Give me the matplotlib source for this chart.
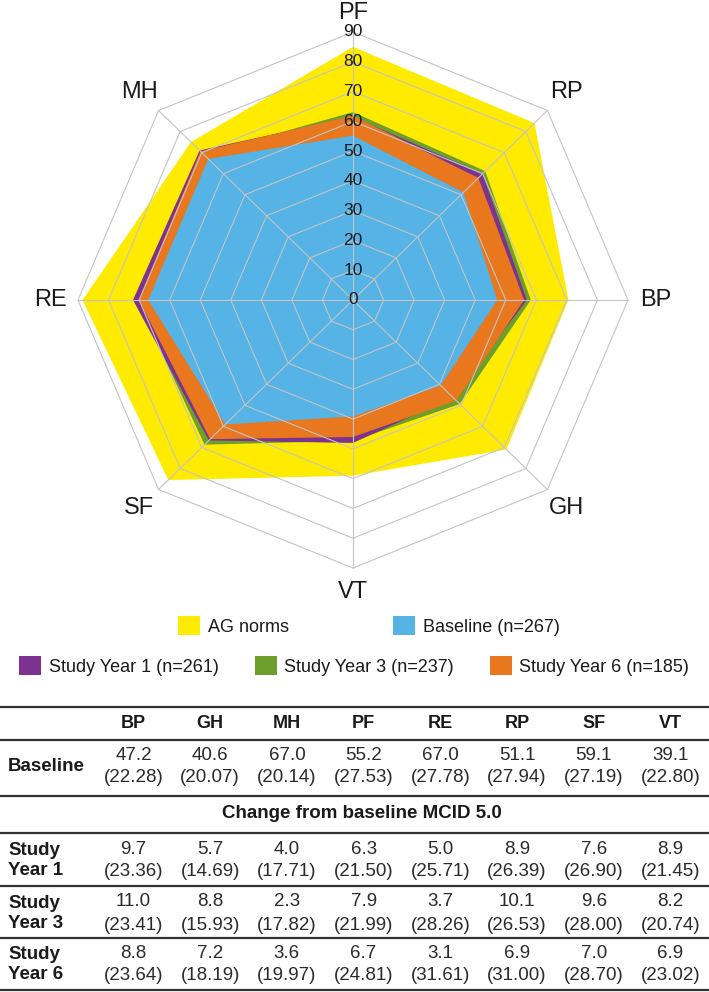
import numpy as np
import matplotlib
matplotlib.use("Agg")
from matplotlib import pyplot as plt
from matplotlib.patches import Patch
from matplotlib.lines import Line2D

plt.rcParams["font.family"] = ["Liberation Sans", "DejaVu Sans"]

# radar axes, clockwise from the top
axes_names = ["PF", "RP", "BP", "GH", "VT", "SF", "RE", "MH"]
ag_norms = [85.0, 84.0, 70.5, 71.0, 59.0, 85.5, 88.5, 75.0]

# table columns
table_cols = ["BP", "GH", "MH", "PF", "RE", "RP", "SF", "VT"]
baseline_mean = [47.2, 40.6, 67.0, 55.2, 67.0, 51.1, 59.1, 39.1]
baseline_sd = [22.28, 20.07, 20.14, 27.53, 27.78, 27.94, 27.19, 22.80]
y1_change = [9.7, 5.7, 4.0, 6.3, 5.0, 8.9, 7.6, 8.9]
y1_sd = [23.36, 14.69, 17.71, 21.50, 25.71, 26.39, 26.90, 21.45]
y3_change = [11.0, 8.8, 2.3, 7.9, 3.7, 10.1, 9.6, 8.2]
y3_sd = [23.41, 15.93, 17.82, 21.99, 28.26, 26.53, 28.00, 20.74]
y6_change = [8.8, 7.2, 3.6, 6.7, 3.1, 6.9, 7.0, 6.9]
y6_sd = [23.64, 18.19, 19.97, 24.81, 31.61, 31.00, 28.70, 23.02]

ticks = list(range(0, 100, 10))

YELLOW = "#FFEB00"
BLUE = "#55B3E6"
PURPLE = "#7D3191"
GREEN = "#6E9F2D"
ORANGE = "#E8771E"
TXT = "#1a1a1a"


def to_radar(vals):
    d = dict(zip(table_cols, vals))
    return [d[k] for k in axes_names]


base_r = to_radar(baseline_mean)
y1_r = [b + c for b, c in zip(base_r, to_radar(y1_change))]
y3_r = [b + c for b, c in zip(base_r, to_radar(y3_change))]
y6_r = [b + c for b, c in zip(base_r, to_radar(y6_change))]

W, H = 709, 992
fig = plt.figure(figsize=(W / 100, H / 100), dpi=100)

# radar axes: centre at (353, 300) px, 90 -> 275 px wide, 268 px tall
sx, sy = 275 / 90, 268 / 90
cx, cy = 353, 300
ax = fig.add_axes([0, 1 - 600 / H, 1, 600 / H])
ax.set_xlim(-cx / sx, (W - cx) / sx)
ax.set_ylim(-(600 - cy) / sy, cy / sy)
ax.axis("off")

theta = np.deg2rad(90 - 45 * np.arange(len(axes_names)))


def xy(r):
    r = np.asarray(r, dtype=float)
    return r * np.cos(theta), r * np.sin(theta)


for vals, col, z in [(ag_norms, YELLOW, 1), (y3_r, GREEN, 2), (y1_r, PURPLE, 2.1),
                     (y6_r, ORANGE, 2.2), (base_r, BLUE, 2.3)]:
    x, y = xy(vals)
    ax.fill(x, y, color=col, lw=0, zorder=z)

# octagonal grid
for t in ticks[1:]:
    x, y = xy([t] * len(axes_names))
    ax.plot(np.append(x, x[0]), np.append(y, y[0]), color="#c4c4c4", lw=0.8, zorder=3)
xe, ye = xy([90] * len(axes_names))
for a, b in zip(xe, ye):
    ax.plot([0, a], [0, b], color="#c4c4c4", lw=0.8, zorder=3)

for t in ticks:
    ax.text(0, t, str(t), ha="center", va="center", fontsize=12.5, color=TXT, zorder=5)

# axis names sit a little closer on the vertical spokes
label_r = [96.5, 99, 99, 99, 98, 99, 99, 99]
xl, yl = xy(label_r)
for name, a, b in zip(axes_names, xl, yl):
    ax.text(a, b, name, ha="center", va="center", fontsize=17, color=TXT, clip_on=False)

# legend rows
leg_kw = dict(loc="center", frameon=False, fontsize=13, handlelength=1.22,
              handleheight=1.22, handletextpad=0.4, labelcolor=TXT)
row1 = [Patch(facecolor=YELLOW, label="AG norms"),
        Patch(facecolor=BLUE, label="Baseline (n=267)")]
row2 = [Patch(facecolor=PURPLE, label="Study Year 1 (n=261)"),
        Patch(facecolor=GREEN, label="Study Year 3 (n=237)"),
        Patch(facecolor=ORANGE, label="Study Year 6 (n=185)")]
fig.legend(handles=row1, ncol=2, columnspacing=5.8,
           bbox_to_anchor=(369 / W, 1 - 626 / H), **leg_kw)
fig.legend(handles=row2, ncol=3, columnspacing=2.0,
           bbox_to_anchor=(354 / W, 1 - 666 / H), **leg_kw)


# table
def fx(px):
    return px / W


def fy(py):
    return 1 - py / H


for ly in [707, 740, 796, 833, 886, 938, 990]:
    fig.add_artist(Line2D([0, 1], [fy(ly), fy(ly)], color="#333333", lw=1.6))

col_x = [133.5 + 76.7 * i for i in range(len(table_cols))]
for c, x in zip(table_cols, col_x):
    fig.text(fx(x), fy(723), c, ha="center", va="center", fontsize=13,
             fontweight="bold", color=TXT)

rows = [("Baseline", baseline_mean, baseline_sd, 755),
        ("Study\nYear 1", y1_change, y1_sd, 849),
        ("Study\nYear 3", y3_change, y3_sd, 902),
        ("Study\nYear 6", y6_change, y6_sd, 953)]
for label, means, sds, y0 in rows:
    fig.text(fx(8), fy(y0 + 11.5), label, ha="left", va="center", fontsize=13.5,
             fontweight="bold", color=TXT, linespacing=1.2)
    for x, m, s in zip(col_x, means, sds):
        fig.text(fx(x), fy(y0), f"{m:.1f}", ha="center", va="center",
                 fontsize=13.5, color="#2a2a2a")
        fig.text(fx(x), fy(y0 + 23), f"({s:.2f})", ha="center", va="center",
                 fontsize=13.5, color="#2a2a2a")

fig.text(fx(362), fy(814), "Change from baseline MCID 5.0", ha="center", va="center",
         fontsize=13.5, fontweight="bold", color=TXT)

fig.savefig("out.png", dpi=100)
